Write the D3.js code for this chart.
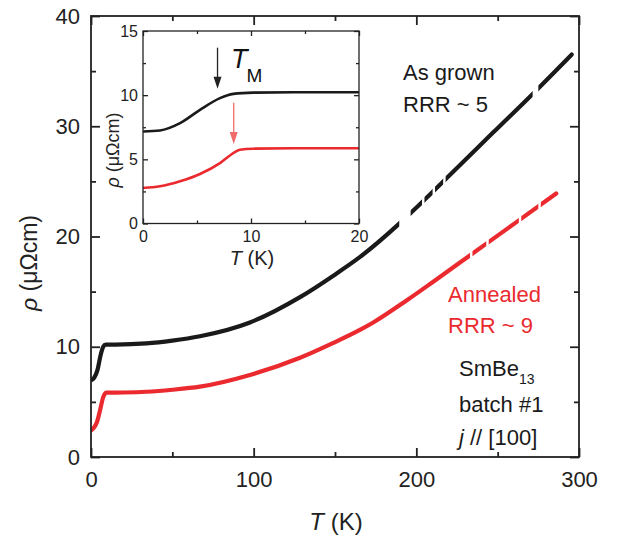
<!DOCTYPE html>
<html>
<head>
<meta charset="utf-8">
<script src="https://cdn.jsdelivr.net/npm/d3@7"></script>
<style>
  body { margin: 0; background: #fff; }
  svg { font-family: 'Liberation Sans', Arial, sans-serif; }
  .tick line { stroke: #222; }
  .domain { display: none; }
</style>
</head>
<body>
<div id="chart"></div>
<script>
const width = 622
const height = 542
const black = '#1a1a1a'
const red = '#ea2a2e'

// main panel: [T (K), rho (µΩcm)]
const asGrown = [[0.4, 6.98], [2, 7.2], [4, 7.9], [6, 9.3], [7.5, 10.0], [9, 10.2], [15, 10.2], [34, 10.3],
  [50, 10.55], [67, 10.95], [97.7, 12.2], [128.5, 14.5], [149, 16.45], [165, 18.1],
  [189, 21.1], [197, 22.2], [222.8, 25.9], [247, 29.4], [272, 33.0], [295.5, 36.5]]
const annealed = [[0.4, 2.45], [2, 2.7], [3.5, 3.1], [5.5, 4.2], [7.6, 5.47], [9.6, 5.83], [20, 5.85], [34, 5.92],
  [50, 6.1], [67, 6.38], [97.7, 7.44], [128.5, 9.0], [149, 10.35], [165, 11.5], [173.5, 12.2], [194, 14.2],
  [210.4, 15.9], [235, 18.5], [259.6, 21.1], [286, 23.9]]
// temperature ranges with no data points
const asGrownGaps = [[189.5, 196.5], [203.5, 205], [210, 211.5], [216.5, 218], [271.5, 275]]
const annealedGaps = [[233, 234.5], [243, 244.5], [263, 264.5], [275, 276.5]]

// inset: low temperature
const insetGrown = [[0, 7.17], [1.57, 7.25], [3.43, 7.82], [5.28, 8.86], [7.13, 9.77], [8.36, 10.1],
  [10.2, 10.2], [14, 10.23], [20, 10.23]]
const insetAnnealed = [[0, 2.77], [1.57, 2.9], [3.43, 3.29], [5.28, 3.86], [7.13, 4.71], [8.36, 5.49],
  [8.97, 5.75], [10.2, 5.83], [14, 5.86], [20, 5.86]]
const tmArrows = [{ t: 6.9, from: 13.7, to: 10.5, color: '#222' }, { t: 8.4, from: 9.4, to: 6.2, color: '#f06a6a' }]

const mainXTicks = [0, 100, 200, 300]
const mainXMinor = [50, 150, 250]
const mainYTicks = [0, 10, 20, 30, 40]
const mainYMinor = [5, 15, 25, 35]
const insetXTicks = [0, 10, 20]
const insetXMinor = [5, 15]
const insetYTicks = [0, 5, 10, 15]
const insetYMinor = [2.5, 7.5, 12.5]

const svg = d3.select('#chart').append('svg')
  .attr('width', width)
  .attr('height', height)
const defs = svg.append('defs')

const main = { left: 91, right: 579, top: 16, bottom: 457 }
const x = d3.scaleLinear().domain([0, 300]).range([main.left, main.right])
const y = d3.scaleLinear().domain([0, 40]).range([main.bottom, main.top])

// frame + ticks on all four sides, pointing inward
let frame = (g, xs, ys, b, major, minor, stroke) => {
  const mk = (axis, tx, ty, vals, size) => g.append('g')
    .attr('transform', `translate(${tx},${ty})`)
    .call(axis.tickValues(vals).tickSize(-size).tickFormat(''))
    .call(g => g.selectAll('line').attr('stroke-width', stroke))
  for (const [vals, size] of [[xs.major, major], [xs.minor, minor]]) {
    mk(d3.axisBottom(xs.scale), 0, b.bottom, vals, size)
    mk(d3.axisTop(xs.scale), 0, b.top, vals, size)
  }
  for (const [vals, size] of [[ys.major, major], [ys.minor, minor]]) {
    mk(d3.axisLeft(ys.scale), b.left, 0, vals, size)
    mk(d3.axisRight(ys.scale), b.right, 0, vals, size)
  }
  g.append('rect')
    .attr('x', b.left).attr('y', b.top)
    .attr('width', b.right - b.left).attr('height', b.bottom - b.top)
    .attr('fill', 'none').attr('stroke', '#222').attr('stroke-width', stroke)
}

// curves, clipped where no data was taken
let curve = (g, data, gaps, color, id) => {
  const clip = defs.append('clipPath').attr('id', id)
  let start = 0
  for (const [a, b] of gaps.concat([[400, 400]])) {
    clip.append('rect')
      .attr('x', x(start)).attr('y', 0)
      .attr('width', Math.max(0, x(a) - x(start))).attr('height', height)
    start = b
  }
  g.append('path')
    .datum(data)
    .attr('clip-path', `url(#${id})`)
    .attr('fill', 'none')
    .attr('stroke', color)
    .attr('stroke-width', 4.2)
    .attr('stroke-linecap', 'round')
    .attr('d', d3.line().x(d => x(d[0])).y(d => y(d[1])).curve(d3.curveMonotoneX))
}

const gMain = svg.append('g')
curve(gMain, asGrown, asGrownGaps, black, 'clip-grown')
curve(gMain, annealed, annealedGaps, red, 'clip-annealed')

frame(svg.append('g'), { scale: x, major: mainXTicks, minor: mainXMinor },
  { scale: y, major: mainYTicks, minor: mainYMinor }, main, 9, 5, 1.8)

svg.append('g')
  .attr('transform', `translate(0,${main.bottom})`)
  .call(d3.axisBottom(x).tickValues(mainXTicks).tickSize(0).tickPadding(14))
  .call(g => g.selectAll('text').attr('font-size', 22).attr('fill', '#222').attr('font-family', null))
svg.append('g')
  .attr('transform', `translate(${main.left},0)`)
  .call(d3.axisLeft(y).tickValues(mainYTicks).tickSize(0).tickPadding(11))
  .call(g => g.selectAll('text').attr('font-size', 22).attr('fill', '#222').attr('font-family', null))

svg.append('text')
  .attr('transform', 'translate(37,263) rotate(-90)')
  .attr('text-anchor', 'middle')
  .attr('font-size', 23)
  .attr('fill', '#222')
  .call(t => t.append('tspan').attr('font-style', 'italic').text('ρ'))
  .call(t => t.append('tspan').text(' (μΩcm)'))
svg.append('text')
  .attr('x', 336).attr('y', 530)
  .attr('text-anchor', 'middle')
  .attr('font-size', 24)
  .attr('fill', '#222')
  .call(t => t.append('tspan').attr('font-style', 'italic').text('T'))
  .call(t => t.append('tspan').text(' (K)'))

// annotations
const notes = [
  { text: 'As grown', x: 403, y: 80, color: black },
  { text: 'RRR ~ 5', x: 403, y: 112, color: black },
  { text: 'Annealed', x: 448, y: 302, color: red },
  { text: 'RRR ~ 9', x: 448, y: 333, color: red },
  { text: 'batch #1', x: 459, y: 412, color: black }
]
svg.append('g').selectAll('text')
  .data(notes)
  .join('text')
    .attr('x', d => d.x).attr('y', d => d.y)
    .attr('font-size', 22)
    .attr('fill', d => d.color)
    .text(d => d.text)
svg.append('text')
  .attr('x', 459).attr('y', 376)
  .attr('font-size', 22).attr('fill', black)
  .call(t => t.append('tspan').text('SmBe'))
  .call(t => t.append('tspan').attr('font-size', 14).attr('dy', 8).text('13'))
svg.append('text')
  .attr('x', 459).attr('y', 445)
  .attr('font-size', 22).attr('fill', black)
  .call(t => t.append('tspan').attr('font-style', 'italic').text('j'))
  .call(t => t.append('tspan').text(' // [100]'))

// inset
const inset = { left: 143, right: 359, top: 31, bottom: 223.5 }
const xi = d3.scaleLinear().domain([0, 20]).range([inset.left, inset.right])
const yi = d3.scaleLinear().domain([0, 15]).range([inset.bottom, inset.top])

svg.append('rect')
  .attr('x', inset.left).attr('y', inset.top)
  .attr('width', inset.right - inset.left).attr('height', inset.bottom - inset.top)
  .attr('fill', '#fff')

const gInset = svg.append('g')
for (const [data, color] of [[insetGrown, black], [insetAnnealed, red]]) {
  gInset.append('path')
    .datum(data)
    .attr('fill', 'none')
    .attr('stroke', color)
    .attr('stroke-width', 2.6)
    .attr('d', d3.line().x(d => xi(d[0])).y(d => yi(d[1])).curve(d3.curveMonotoneX))
}

frame(svg.append('g'), { scale: xi, major: insetXTicks, minor: insetXMinor },
  { scale: yi, major: insetYTicks, minor: insetYMinor }, inset, 5, 3, 1.3)

svg.append('g')
  .attr('transform', `translate(0,${inset.bottom})`)
  .call(d3.axisBottom(xi).tickValues(insetXTicks).tickSize(0).tickPadding(7))
  .call(g => g.selectAll('text').attr('font-size', 16).attr('fill', '#222').attr('font-family', null))
svg.append('g')
  .attr('transform', `translate(${inset.left},0)`)
  .call(d3.axisLeft(yi).tickValues(insetYTicks).tickSize(0).tickPadding(5))
  .call(g => g.selectAll('text').attr('font-size', 16).attr('fill', '#222').attr('font-family', null))

svg.append('text')
  .attr('transform', 'translate(119,150) rotate(-90)')
  .attr('text-anchor', 'middle')
  .attr('font-size', 18)
  .attr('fill', '#222')
  .call(t => t.append('tspan').attr('font-style', 'italic').text('ρ'))
  .call(t => t.append('tspan').text(' (μΩcm)'))
svg.append('text')
  .attr('x', 252).attr('y', 265)
  .attr('text-anchor', 'middle')
  .attr('font-size', 20)
  .attr('fill', '#222')
  .call(t => t.append('tspan').attr('font-style', 'italic').text('T'))
  .call(t => t.append('tspan').text(' (K)'))

// T_M arrows
const arrows = svg.append('g').selectAll('g')
  .data(tmArrows)
  .join('g')
arrows.append('line')
  .attr('x1', d => xi(d.t)).attr('x2', d => xi(d.t))
  .attr('y1', d => yi(d.from)).attr('y2', d => yi(d.to) - 8)
  .attr('stroke', d => d.color).attr('stroke-width', 1.3)
arrows.append('path')
  .attr('fill', d => d.color)
  .attr('d', d => `M${xi(d.t) - 4},${yi(d.to) - 12}L${xi(d.t) + 4},${yi(d.to) - 12}L${xi(d.t)},${yi(d.to)}Z`)

svg.append('text')
  .attr('x', 231).attr('y', 68)
  .attr('font-size', 27)
  .attr('fill', '#111')
  .call(t => t.append('tspan').attr('font-style', 'italic').text('T'))
  .call(t => t.append('tspan').attr('font-size', 19).attr('dy', 14).attr('dx', -1).text('M'))
</script>
</body>
</html>
